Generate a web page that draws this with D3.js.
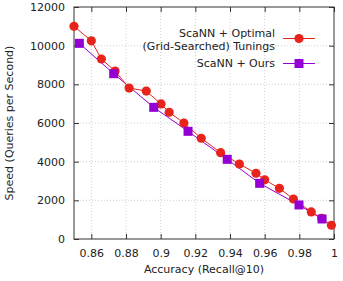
<!DOCTYPE html>
<html>
<head>
<meta charset="utf-8">
<script src="https://cdn.jsdelivr.net/npm/d3@7"></script>
<style>
  body { margin: 0; background: #fff; }
  svg text { font-family: "DejaVu Sans", sans-serif; font-size: 11px; fill: #222; }
</style>
</head>
<body>
<div id="chart"></div>
<script>
// data
let optimalRecall = [0.85, 0.86, 0.8658, 0.8737, 0.8818, 0.8917, 0.9002, 0.9049, 0.9134, 0.9234,
                     0.9346, 0.9454, 0.955, 0.960, 0.9685, 0.9766, 0.9869, 0.9929, 0.9985];
let optimalQps = [11000, 10250, 9310, 8690, 7810, 7650, 6985, 6555, 6000, 5210,
                  4465, 3880, 3400, 3060, 2620, 2070, 1400, 1070, 710];
let oursRecall = [0.8531, 0.8729, 0.896, 0.9158, 0.9384, 0.9571, 0.9798, 0.9931];
let oursQps = [10120, 8550, 6810, 5570, 4120, 2880, 1760, 1035];
let xTicks = [0.86, 0.88, 0.9, 0.92, 0.94, 0.96, 0.98, 1];
let yTicks = [0, 2000, 4000, 6000, 8000, 10000, 12000];

const width = 343, height = 281;
const margin = {top: 7, right: 9, bottom: 42, left: 74};
const w = width - margin.left - margin.right;
const h = height - margin.top - margin.bottom;

const red = "#e8231b", purple = "#9400d3";

let svg = d3.select("#chart").append("svg")
    .attr("width", width)
    .attr("height", height);
let g = svg.append("g")
    .attr("transform", `translate(${margin.left}, ${margin.top})`);

let x = d3.scaleLinear().domain([0.85, 1]).range([0, w]);
let y = d3.scaleLinear().domain([0, 12000]).range([h, 0]);

// grid
g.append("g").selectAll("line").data(xTicks.slice(0, -1)).enter().append("line")
    .attr("x1", d => x(d)).attr("x2", d => x(d)).attr("y1", 0).attr("y2", h)
    .attr("stroke", "#bbb").attr("stroke-width", 0.7).attr("stroke-dasharray", "1,2");
g.append("g").selectAll("line").data(yTicks.slice(1, -1)).enter().append("line")
    .attr("x1", 0).attr("x2", w).attr("y1", d => y(d)).attr("y2", d => y(d))
    .attr("stroke", "#bbb").attr("stroke-width", 0.7).attr("stroke-dasharray", "1,2");

// axes (ticks inward, mirrored)
let fmt = d => d === 1 ? "1" : d3.format("")(d);
g.append("g").attr("transform", `translate(0, ${h})`)
    .call(d3.axisBottom(x).tickValues(xTicks).tickFormat(fmt).tickSizeInner(-5).tickSizeOuter(0).tickPadding(10))
    .call(a => a.select(".domain").remove());
g.append("g")
    .call(d3.axisTop(x).tickValues(xTicks).tickFormat("").tickSizeInner(-5).tickSizeOuter(0))
    .call(a => a.select(".domain").remove());
g.append("g")
    .call(d3.axisLeft(y).tickValues(yTicks).tickFormat(d3.format("d")).tickSizeInner(-5).tickSizeOuter(0).tickPadding(9))
    .call(a => a.select(".domain").remove());
g.append("g").attr("transform", `translate(${w}, 0)`)
    .call(d3.axisRight(y).tickValues(yTicks).tickFormat("").tickSizeInner(-5).tickSizeOuter(0))
    .call(a => a.select(".domain").remove());
g.selectAll(".tick line").attr("stroke", "#333");
g.selectAll(".tick text").style("font-family", "DejaVu Sans, sans-serif").style("font-size", "11px").attr("fill", "#222");

g.append("rect").attr("width", w).attr("height", h)
    .attr("fill", "none").attr("stroke", "#333").attr("stroke-width", 1);

// series
let optimal = optimalRecall.map((r, i) => ({r: r, q: optimalQps[i]}));
let ours = oursRecall.map((r, i) => ({r: r, q: oursQps[i]}));
let line = d3.line().x(d => x(d.r)).y(d => y(d.q));

g.append("path").datum(ours).attr("d", line)
    .attr("fill", "none").attr("stroke", purple).attr("stroke-width", 1);
g.append("path").datum(optimal).attr("d", line)
    .attr("fill", "none").attr("stroke", red).attr("stroke-width", 1);

g.selectAll(".pt").data(optimal).enter().append("circle")
    .attr("class", "pt")
    .attr("cx", d => x(d.r)).attr("cy", d => y(d.q)).attr("r", 4.6)
    .attr("fill", red);
g.selectAll(".sq").data(ours).enter().append("rect")
    .attr("class", "sq")
    .attr("x", d => x(d.r) - 4.5).attr("y", d => y(d.q) - 4.5)
    .attr("width", 9).attr("height", 9)
    .attr("fill", purple);

// legend
let legend = svg.append("g");
legend.append("text").attr("x", 275).attr("y", 37).style("text-anchor", "end").text("ScaNN + Optimal");
legend.append("text").attr("x", 275).attr("y", 50).style("text-anchor", "end").text("(Grid-Searched) Tunings");
legend.append("line").attr("x1", 283).attr("x2", 315).attr("y1", 38.5).attr("y2", 38.5)
    .attr("stroke", red).attr("stroke-width", 1);
legend.append("circle").attr("cx", 299).attr("cy", 38.5).attr("r", 4.6).attr("fill", red);
legend.append("text").attr("x", 275).attr("y", 67).style("text-anchor", "end").text("ScaNN + Ours");
legend.append("line").attr("x1", 283).attr("x2", 315).attr("y1", 63.5).attr("y2", 63.5)
    .attr("stroke", purple).attr("stroke-width", 1);
legend.append("rect").attr("x", 294.5).attr("y", 59).attr("width", 9).attr("height", 9).attr("fill", purple);

// axis titles
svg.append("text")
    .attr("transform", `translate(${margin.left + w / 2}, ${height - 8})`)
    .style("text-anchor", "middle")
    .text("Accuracy (Recall@10)");
svg.append("text")
    .attr("transform", `translate(13, ${margin.top + h / 2}) rotate(-90)`)
    .style("text-anchor", "middle")
    .text("Speed (Queries per Second)");
</script>
</body>
</html>
